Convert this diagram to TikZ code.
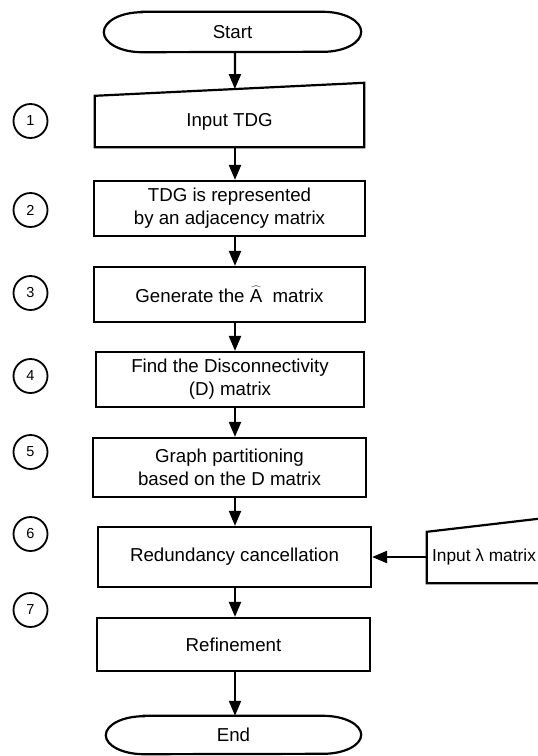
\documentclass[tikz,border=0pt]{standalone}
\usepackage{fontspec}
\setmainfont{Liberation Sans}
\usetikzlibrary{arrows.meta,calc}
\begin{document}
\begin{tikzpicture}[x=1pt,y=-1pt,
  outline/.style={line width=2.2pt,line join=miter},
  box/.style={draw,line width=2.2pt,align=center,inner sep=0pt,
    font=\fontsize{18.7}{23}\selectfont},
  plain/.style={align=center,inner sep=0pt,
    font=\fontsize{18.7}{23}\selectfont},
  num/.style={draw,circle,line width=1.8pt,minimum size=34pt,inner sep=0pt,
    font=\fontsize{14.5}{16}\selectfont},
  arr/.style={line width=2.2pt,-{Triangle[length=15pt,width=12pt]}}
]
\useasboundingbox (0,0) rectangle (538,756);
\fill[white] (0,0) rectangle (538,756);

% vertical line along which the flow arrows run
\coordinate (axis) at (235,0);

% terminators
\node[plain,minimum width=257pt,minimum height=40pt] (start) at (232.5,32) {Start};
\draw[outline] ([xshift=38pt]start.north west) -- ([xshift=-38pt]start.north east)
  arc[start angle=90,end angle=-90,x radius=38pt,y radius=20pt]
  -- ([xshift=38pt]start.south west)
  arc[start angle=270,end angle=90,x radius=38pt,y radius=20pt] -- cycle;

\node[plain,minimum width=255pt,minimum height=38pt] (end) at (233.5,735) {End};
\draw[outline] ([xshift=38pt]end.north west) -- ([xshift=-38pt]end.north east)
  arc[start angle=90,end angle=-90,x radius=38pt,y radius=19pt]
  -- ([xshift=38pt]end.south west)
  arc[start angle=270,end angle=90,x radius=38pt,y radius=19pt] -- cycle;

% manual input: TDG
\node[plain,minimum width=269pt,minimum height=51pt] (in1) at (229.5,121.5) {Input TDG};
\draw[outline] ([yshift=13pt]in1.north east) -- (in1.north west) -- (in1.south west)
  -- (in1.south east) -- cycle;
\coordinate (in1top) at ($(in1.north west)!0.52!([yshift=13pt]in1.north east)$);

% process steps
\node[box,minimum width=271pt,minimum height=55pt] (b2) at (229.5,208.5)
  {TDG is represented\\by an adjacency matrix};
\node[box,minimum width=271pt,minimum height=55pt] (b3) at (229.5,294.5)
  {Generate the $\widehat{\mbox{A}}$\ \ matrix};
\node[box,minimum width=268pt,minimum height=55pt] (b4) at (230,379.5)
  {Find the Disconnectivity\\(D) matrix};
\node[box,minimum width=273pt,minimum height=59pt] (b5) at (229.5,467.5)
  {Graph partitioning\\based on the D matrix};
\node[box,minimum width=273pt,minimum height=60pt] (b6) at (234.5,557)
  {Redundancy cancellation};
\node[box,minimum width=273pt,minimum height=53pt] (b7) at (233.5,644.5)
  {Refinement};

% manual input: lambda matrix (runs off the right edge)
\node[plain,minimum width=111pt,minimum height=51pt,
  font=\fontsize{17.3}{21}\selectfont] (lam) at (482.5,557.5)
  {\hspace*{3pt}Input λ matrix};
\draw[outline] ([yshift=13pt]lam.north east) -- (lam.north west) -- (lam.south west)
  -- (lam.south east);

% step numbers
\node[num] (c1) at (30.5,121) {1};
\node[num] (c2) at (30.5,210) {2};
\node[num] (c3) at (30.5,293) {3};
\node[num] (c4) at (30.5,376) {4};
\node[num] (c5) at (30.5,452) {5};
\node[num] (c6) at (30.5,534) {6};
\node[num] (c7) at (30.5,610) {7};

% flow
\draw[arr] (start.south -| axis) -- (in1top);
\draw[arr] (in1.south -| axis) -- (b2.north -| axis);
\draw[arr] (b2.south -| axis) -- (b3.north -| axis);
\draw[arr] (b3.south -| axis) -- (b4.north -| axis);
\draw[arr] (b4.south -| axis) -- (b5.north -| axis);
\draw[arr] (b5.south -| axis) -- (b6.north -| axis);
\draw[arr] (b6.south -| axis) -- (b7.north -| axis);
\draw[arr] (b7.south -| axis) -- (end.north -| axis);
\draw[arr] (lam.west |- b6.east) -- (b6.east);
\end{tikzpicture}
\end{document}
